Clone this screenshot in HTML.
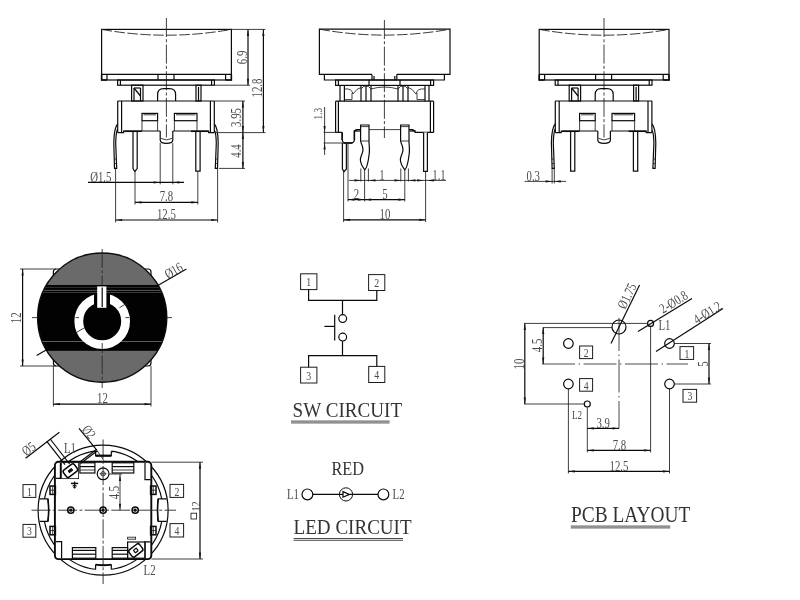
<!DOCTYPE html>
<html lang="en">
<head>
<meta charset="utf-8">
<title>Illuminated tact switch drawing</title>
<style>
html,body{margin:0;padding:0;background:#fff;}
body{width:800px;height:600px;overflow:hidden;}
svg{display:block;will-change:transform;}
.o{fill:none;stroke:#0a0a0a;stroke-width:1.2;}
.k{fill:#fff;stroke:#111;stroke-width:1.25;}
.k2{fill:none;stroke:#0a0a0a;stroke-width:1.5;}
.k3{fill:none;stroke:#0a0a0a;stroke-width:2.2;}
.kf{fill:#111;stroke:none;}
.b{fill:none;stroke:#1c1c1c;stroke-width:1;}
.d{fill:none;stroke:#1e1e1e;stroke-width:0.85;}
.c{fill:none;stroke:#2a2a2a;stroke-width:0.9;stroke-dasharray:19 2.3 3 2.3;}
.c2{fill:none;stroke:#4a4a4a;stroke-width:1;stroke-dasharray:33 3.5 1.5 3.5;}
.dash{fill:none;stroke:#222;stroke-width:0.9;stroke-dasharray:10.5 2.5;}
.ah{fill:#141414;stroke:none;}
.t{font-family:"Liberation Serif","DejaVu Serif",serif;fill:#4a4a4a;}
.tt{font-family:"Liberation Serif","DejaVu Serif",serif;fill:#333;}
</style>
</head>
<body>
<svg width="800" height="600" viewBox="0 0 800 600">
<rect x="0" y="0" width="800" height="600" fill="#fff"/>
<rect class="o" x="101.6" y="29.4" width="129.8" height="50.6"/>
<line class="o" x1="101.6" y1="74.4" x2="231.4" y2="74.4"/>
<line class="o" x1="107" y1="74.4" x2="107" y2="80"/>
<line class="o" x1="225.6" y1="74.4" x2="225.6" y2="80"/>
<line class="o" x1="158" y1="74.4" x2="158" y2="80"/>
<line class="o" x1="174" y1="74.4" x2="174" y2="80"/>
<path class="dash" d="M101.6 29.4 Q166.4 41 231.4 29.4"/>
<line class="c" x1="166.4" y1="18" x2="166.4" y2="137.5"/>
<rect class="o" x="117.6" y="80" width="96.8" height="5.2"/>
<line class="o" x1="120.4" y1="80" x2="120.4" y2="85.2"/>
<line class="o" x1="211.6" y1="80" x2="211.6" y2="85.2"/>
<path class="k2" d="M101.6 74.4 L101.6 80 L107 80"/>
<path class="k2" d="M231.4 74.4 L231.4 80 L225.6 80"/>
<rect class="o" x="131.6" y="85.2" width="11.4" height="15.8"/>
<line class="o" x1="134" y1="88" x2="134" y2="101"/>
<line class="o" x1="140.5" y1="88" x2="140.5" y2="101"/>
<line class="o" x1="134" y1="88" x2="140.5" y2="88"/>
<line class="o" x1="134" y1="88" x2="140.5" y2="96"/>
<rect class="o" x="196" y="85.2" width="5" height="15.8"/>
<line class="o" x1="198.5" y1="87" x2="198.5" y2="101"/>
<path class="o" d="M157.6 101 V94.5 Q157.6 88.6 163.6 88.6 H169.6 Q175.6 88.6 175.6 94.5 V101"/>
<line class="o" x1="117.6" y1="101" x2="214.4" y2="101"/>
<line class="o" x1="117.7" y1="101" x2="117.7" y2="132.6"/>
<line class="o" x1="121.6" y1="101" x2="121.6" y2="132.6"/>
<line class="o" x1="214.3" y1="101" x2="214.3" y2="132.6"/>
<line class="o" x1="210.4" y1="101" x2="210.4" y2="132.6"/>
<path class="o" d="M117.7 132.6 L123.6 132.6 L123.6 131 L160.2 131"/>
<path class="o" d="M172.8 131 L208.6 131 L208.6 132.6 L214.3 132.6"/>
<rect class="o" x="142" y="113.4" width="15.6" height="7.3"/>
<line class="d" x1="142" y1="120.7" x2="142" y2="131"/>
<line class="d" x1="157.6" y1="120.7" x2="157.6" y2="131"/>
<line class="d" x1="143.5" y1="114.8" x2="156" y2="114.8"/>
<rect class="o" x="174.4" y="113.4" width="22.6" height="7.3"/>
<line class="d" x1="174.4" y1="120.7" x2="174.4" y2="131"/>
<line class="d" x1="197" y1="120.7" x2="197" y2="131"/>
<line class="d" x1="176" y1="114.8" x2="195.5" y2="114.8"/>
<path class="o" d="M160.2 131 V140 Q160.2 143.4 166.4 143.4 Q172.8 143.4 172.8 140 V131"/>
<path class="d" d="M160.8 138.4 Q166.5 141.4 172.2 138.4"/>
<path class="k" d="M133 131.5 L133 168.6 L134.8 171.5 L137.2 168.6 L137.2 131.5"/>
<path class="k" d="M195.8 131.5 L195.8 171.2 L200.1 171.2 L200.1 131.5"/>
<line class="k2" x1="124.4" y1="131.3" x2="141.8" y2="131.3"/>
<line class="k2" x1="191" y1="131.3" x2="208.4" y2="131.3"/>
<path class="o" d="M117.6 124 Q114 128 113.8 143 L114.5 168.4 L116.7 168.4 L115.7 143 Q116 132 117.6 129"/>
<line class="d" x1="114.2" y1="159" x2="116.2" y2="159"/>
<line class="d" x1="114.4" y1="163.6" x2="116.4" y2="163.6"/>
<path class="o" d="M214.4 124 Q218 128 218.2 143 L217.5 168.4 L215.3 168.4 L216.3 143 Q216 132 214.4 130.5"/>
<line class="d" x1="215.8" y1="159" x2="217.8" y2="159"/>
<line class="d" x1="215.6" y1="163.6" x2="217.6" y2="163.6"/>
<line class="d" x1="160.2" y1="143" x2="160.2" y2="184.4"/>
<line class="d" x1="172.8" y1="143" x2="172.8" y2="184.4"/>
<line class="o" x1="88" y1="182.4" x2="184" y2="182.4"/>
<path class="ah" d="M160.2 182.4 L153.7 183.5 L153.7 181.3 Z"/>
<path class="ah" d="M172.8 182.4 L179.3 181.3 L179.3 183.5 Z"/>
<text class="t" x="90.2" y="181.6" font-size="14" text-anchor="start" textLength="21.26" lengthAdjust="spacingAndGlyphs">Ø1.5</text>
<line class="d" x1="135" y1="171" x2="135" y2="204.5"/>
<line class="d" x1="197.8" y1="171" x2="197.8" y2="204.5"/>
<line class="o" x1="135" y1="202.4" x2="197.8" y2="202.4"/>
<path class="ah" d="M135 202.4 L141.5 201.3 L141.5 203.5 Z"/>
<path class="ah" d="M197.8 202.4 L191.3 203.5 L191.3 201.3 Z"/>
<text class="t" x="166.4" y="201.3" font-size="14" text-anchor="middle" textLength="13.48" lengthAdjust="spacingAndGlyphs">7.8</text>
<line class="d" x1="115.6" y1="168.4" x2="115.6" y2="222.5"/>
<line class="d" x1="217.6" y1="168.4" x2="217.6" y2="222.5"/>
<line class="o" x1="115.6" y1="220" x2="217.6" y2="220"/>
<path class="ah" d="M115.6 220 L122.1 218.9 L122.1 221.1 Z"/>
<path class="ah" d="M217.6 220 L211.1 221.1 L211.1 218.9 Z"/>
<text class="t" x="166.4" y="219" font-size="14" text-anchor="middle" textLength="18.87" lengthAdjust="spacingAndGlyphs">12.5</text>
<line class="d" x1="231.4" y1="29.4" x2="265.5" y2="29.4"/>
<line class="d" x1="214.4" y1="85.2" x2="250" y2="85.2"/>
<line class="d" x1="214.4" y1="101" x2="245" y2="101"/>
<line class="d" x1="214.4" y1="132.6" x2="265.5" y2="132.6"/>
<line class="d" x1="219" y1="168.4" x2="245" y2="168.4"/>
<line class="o" x1="248" y1="29.4" x2="248" y2="85.2"/>
<path class="ah" d="M248 29.4 L249.1 35.9 L246.9 35.9 Z"/>
<path class="ah" d="M248 85.2 L246.9 78.7 L249.1 78.7 Z"/>
<text class="t" x="247.4" y="57.4" font-size="14" text-anchor="middle" textLength="13.48" lengthAdjust="spacingAndGlyphs" transform="rotate(-90 247.4 57.4)">6.9</text>
<line class="o" x1="263.4" y1="29.4" x2="263.4" y2="132.6"/>
<path class="ah" d="M263.4 29.4 L264.5 35.9 L262.3 35.9 Z"/>
<path class="ah" d="M263.4 132.6 L262.3 126.1 L264.5 126.1 Z"/>
<text class="t" x="261.8" y="88" font-size="14" text-anchor="middle" textLength="18.87" lengthAdjust="spacingAndGlyphs" transform="rotate(-90 261.8 88)">12.8</text>
<line class="o" x1="242.9" y1="101" x2="242.9" y2="132.6"/>
<path class="ah" d="M242.9 101 L244 107.5 L241.8 107.5 Z"/>
<path class="ah" d="M242.9 132.6 L241.8 126.1 L244 126.1 Z"/>
<text class="t" x="241.2" y="117.5" font-size="14" text-anchor="middle" textLength="18.87" lengthAdjust="spacingAndGlyphs" transform="rotate(-90 241.2 117.5)">3.95</text>
<line class="o" x1="242.9" y1="132.6" x2="242.9" y2="168.4"/>
<path class="ah" d="M242.9 132.6 L244 139.1 L241.8 139.1 Z"/>
<path class="ah" d="M242.9 168.4 L241.8 161.9 L244 161.9 Z"/>
<text class="t" x="241" y="151" font-size="14" text-anchor="middle" textLength="13.48" lengthAdjust="spacingAndGlyphs" transform="rotate(-90 241 151)">4.4</text>
<path class="o" d="M372 74.4 L319.4 74.4 L319.4 29.2 L450 29.2 L450 74.4 L396.8 74.4"/>
<path class="dash" d="M319.4 29.2 Q384.4 41 450 29.2"/>
<line class="c" x1="384.4" y1="20" x2="384.4" y2="138"/>
<path class="o" d="M324.4 74.4 L324.4 80 L372 80 L372 74.4"/>
<path class="o" d="M444.4 74.4 L444.4 80 L396.8 80 L396.8 74.4"/>
<line class="o" x1="374" y1="76" x2="374" y2="80"/>
<line class="o" x1="394.8" y1="76" x2="394.8" y2="80"/>
<line class="o" x1="372" y1="80" x2="396.8" y2="80"/>
<rect class="o" x="335.6" y="80" width="98" height="5.4"/>
<line class="o" x1="338.4" y1="80" x2="338.4" y2="85.4"/>
<line class="o" x1="430.6" y1="80" x2="430.6" y2="85.4"/>
<line class="o" x1="369" y1="80" x2="369" y2="85.4"/>
<line class="o" x1="400" y1="80" x2="400" y2="85.4"/>
<line class="o" x1="340" y1="85.4" x2="340" y2="101.2"/>
<line class="o" x1="344.4" y1="85.4" x2="344.4" y2="101.2"/>
<line class="o" x1="361" y1="85.4" x2="361" y2="101.2"/>
<line class="o" x1="366" y1="85.4" x2="366" y2="101.2"/>
<line class="o" x1="371" y1="85.4" x2="371" y2="101.2"/>
<line class="o" x1="398" y1="85.4" x2="398" y2="101.2"/>
<line class="o" x1="403" y1="85.4" x2="403" y2="101.2"/>
<line class="o" x1="408" y1="85.4" x2="408" y2="101.2"/>
<line class="o" x1="425" y1="85.4" x2="425" y2="101.2"/>
<line class="o" x1="429" y1="85.4" x2="429" y2="101.2"/>
<path class="d" d="M344.4 89 Q352 88 353 94 Q357 88 361 87.5"/>
<path class="d" d="M425 89 Q417 88 416 94 Q412 88 408 87.5"/>
<path class="d" d="M361 89 Q363.5 85.5 366 86 Q368.5 85.5 371 89 Q384.4 85 398 89 Q400.5 85.5 403 86 Q405.5 85.5 408 89"/>
<line class="d" x1="344.4" y1="99.6" x2="352" y2="99.6"/>
<line class="d" x1="417" y1="99.6" x2="425" y2="99.6"/>
<line class="d" x1="352" y1="93" x2="352" y2="99.6"/>
<line class="d" x1="417" y1="93" x2="417" y2="99.6"/>
<line class="o" x1="335.6" y1="101.2" x2="433.6" y2="101.2"/>
<line class="o" x1="335.6" y1="101.2" x2="335.6" y2="132.4"/>
<line class="o" x1="338.4" y1="101.2" x2="338.4" y2="132.4"/>
<line class="o" x1="433.6" y1="101.2" x2="433.6" y2="132.4"/>
<line class="o" x1="430.4" y1="101.2" x2="430.4" y2="132.4"/>
<path class="o" d="M335.6 132.4 L342.2 132.4"/>
<path class="o" d="M354.4 132.4 L354.4 130.6 L356 130.6 L356 129.6 L360.6 129.6"/>
<path class="o" d="M433.6 132.4 L415 132.4 L415 130.6 L413 130.6 L413 129.6 L409 129.6"/>
<line class="d" x1="369" y1="129.6" x2="400.6" y2="129.6"/>
<line class="k" x1="354" y1="131" x2="360" y2="131"/>
<line class="k" x1="409.5" y1="131" x2="415" y2="131"/>
<path class="o" d="M360.6 141 L360.6 125 L369 125 L369 141"/>
<line class="d" x1="360.6" y1="126.6" x2="369" y2="126.6"/>
<line class="d" x1="360.6" y1="141" x2="369" y2="141"/>
<path class="o" d="M360.6 141 C361.1 144 363.2 146 363 150 C362.8 154 360.2 156 360.4 160 C360.6 164 362.6 167 364.8 169.8 C368 167 368.4 160 369.4 152 C369.6 148 369 144 369 141"/>
<line class="d" x1="360.8" y1="168.5" x2="360.8" y2="181.5"/>
<line class="d" x1="368.4" y1="168.5" x2="368.4" y2="181.5"/>
<path class="o" d="M400.6 141 L400.6 125 L409 125 L409 141"/>
<line class="d" x1="400.6" y1="126.6" x2="409" y2="126.6"/>
<line class="d" x1="400.6" y1="141" x2="409" y2="141"/>
<path class="o" d="M400.6 141 C401.1 144 403.2 146 403 150 C402.8 154 400.2 156 400.4 160 C400.6 164 402.6 167 404.8 169.8 C408 167 408.4 160 409.4 152 C409.6 148 409 144 409 141"/>
<line class="d" x1="400.8" y1="168.5" x2="400.8" y2="181.5"/>
<line class="d" x1="408.4" y1="168.5" x2="408.4" y2="181.5"/>
<path class="k" d="M342.4 143 L342.4 169 L344 171.6 L346.4 169 L346.4 143"/>
<path class="k" d="M423.6 132.4 L423.6 171.4 L427.4 171.4 L427.4 132.4"/>
<path class="o" d="M342.2 132.4 V139.5 Q342.2 143 346 143 H350.6 Q354.4 143 354.4 139.5 V132.4"/>
<line class="k2" x1="343.6" y1="143" x2="352.6" y2="143"/>
<line class="k2" x1="342.2" y1="132.4" x2="342.2" y2="140"/>
<line class="k2" x1="354.4" y1="131" x2="354.4" y2="140"/>
<line class="d" x1="323.6" y1="132.4" x2="342" y2="132.4"/>
<line class="d" x1="323.6" y1="143" x2="352" y2="143"/>
<line class="d" x1="324.6" y1="107" x2="324.6" y2="155"/>
<path class="ah" d="M324.6 132.4 L323.5 125.9 L325.7 125.9 Z"/>
<path class="ah" d="M324.6 143 L325.7 149.5 L323.5 149.5 Z"/>
<text class="t" x="322.4" y="113.6" font-size="12" text-anchor="middle" textLength="11.55" lengthAdjust="spacingAndGlyphs" transform="rotate(-90 322.4 113.6)">1.3</text>
<line class="d" x1="349" y1="180.4" x2="446" y2="180.4"/>
<path class="ah" d="M361 180.4 L354.5 181.5 L354.5 179.3 Z"/>
<path class="ah" d="M369 180.4 L375.5 179.3 L375.5 181.5 Z"/>
<path class="ah" d="M401 180.4 L394.5 181.5 L394.5 179.3 Z"/>
<path class="ah" d="M409 180.4 L415.5 179.3 L415.5 181.5 Z"/>
<path class="ah" d="M423.6 180.4 L417.1 181.5 L417.1 179.3 Z"/>
<path class="ah" d="M427.4 180.4 L433.9 179.3 L433.9 181.5 Z"/>
<text class="t" x="382" y="179.6" font-size="14" text-anchor="middle" textLength="5.39" lengthAdjust="spacingAndGlyphs">1</text>
<text class="t" x="439" y="179.6" font-size="14" text-anchor="middle" textLength="13.48" lengthAdjust="spacingAndGlyphs">1.1</text>
<line class="d" x1="348" y1="143" x2="348" y2="201.5"/>
<line class="d" x1="364.6" y1="169" x2="364.6" y2="201.5"/>
<line class="d" x1="404.8" y1="169" x2="404.8" y2="201.5"/>
<line class="o" x1="348" y1="199.6" x2="364.6" y2="199.6"/>
<path class="ah" d="M348 199.6 L354.5 198.5 L354.5 200.7 Z"/>
<path class="ah" d="M364.6 199.6 L358.1 200.7 L358.1 198.5 Z"/>
<line class="o" x1="364.6" y1="199.6" x2="404.8" y2="199.6"/>
<path class="ah" d="M364.6 199.6 L371.1 198.5 L371.1 200.7 Z"/>
<path class="ah" d="M404.8 199.6 L398.3 200.7 L398.3 198.5 Z"/>
<text class="t" x="356.4" y="198.6" font-size="14" text-anchor="middle" textLength="5.39" lengthAdjust="spacingAndGlyphs">2</text>
<text class="t" x="385" y="198.6" font-size="14" text-anchor="middle" textLength="5.39" lengthAdjust="spacingAndGlyphs">5</text>
<line class="d" x1="343.6" y1="171" x2="343.6" y2="222"/>
<line class="d" x1="425.6" y1="171" x2="425.6" y2="222"/>
<line class="o" x1="343.6" y1="219.8" x2="425.6" y2="219.8"/>
<path class="ah" d="M343.6 219.8 L350.1 218.7 L350.1 220.9 Z"/>
<path class="ah" d="M425.6 219.8 L419.1 220.9 L419.1 218.7 Z"/>
<text class="t" x="385" y="218.6" font-size="14" text-anchor="middle" textLength="10.78" lengthAdjust="spacingAndGlyphs">10</text>
<g transform="translate(437.6 0)">
<rect class="o" x="101.6" y="29.4" width="129.8" height="50.6"/>
<line class="o" x1="101.6" y1="74.4" x2="231.4" y2="74.4"/>
<line class="o" x1="107" y1="74.4" x2="107" y2="80"/>
<line class="o" x1="225.6" y1="74.4" x2="225.6" y2="80"/>
<line class="o" x1="158" y1="74.4" x2="158" y2="80"/>
<line class="o" x1="174" y1="74.4" x2="174" y2="80"/>
<path class="dash" d="M101.6 29.4 Q166.4 41 231.4 29.4"/>
<line class="c" x1="166.4" y1="18" x2="166.4" y2="137.5"/>
<rect class="o" x="117.6" y="80" width="96.8" height="5.2"/>
<line class="o" x1="120.4" y1="80" x2="120.4" y2="85.2"/>
<line class="o" x1="211.6" y1="80" x2="211.6" y2="85.2"/>
<path class="k2" d="M101.6 74.4 L101.6 80 L107 80"/>
<path class="k2" d="M231.4 74.4 L231.4 80 L225.6 80"/>
<rect class="o" x="131.6" y="85.2" width="11.4" height="15.8"/>
<line class="o" x1="134" y1="88" x2="134" y2="101"/>
<line class="o" x1="140.5" y1="88" x2="140.5" y2="101"/>
<line class="o" x1="134" y1="88" x2="140.5" y2="88"/>
<line class="o" x1="134" y1="88" x2="140.5" y2="96"/>
<rect class="o" x="196" y="85.2" width="5" height="15.8"/>
<line class="o" x1="198.5" y1="87" x2="198.5" y2="101"/>
<path class="o" d="M157.6 101 V94.5 Q157.6 88.6 163.6 88.6 H169.6 Q175.6 88.6 175.6 94.5 V101"/>
<line class="o" x1="117.6" y1="101" x2="214.4" y2="101"/>
<line class="o" x1="117.7" y1="101" x2="117.7" y2="132.6"/>
<line class="o" x1="121.6" y1="101" x2="121.6" y2="132.6"/>
<line class="o" x1="214.3" y1="101" x2="214.3" y2="132.6"/>
<line class="o" x1="210.4" y1="101" x2="210.4" y2="132.6"/>
<path class="o" d="M117.7 132.6 L123.6 132.6 L123.6 131 L160.2 131"/>
<path class="o" d="M172.8 131 L208.6 131 L208.6 132.6 L214.3 132.6"/>
<rect class="o" x="142" y="113.4" width="15.6" height="7.3"/>
<line class="d" x1="142" y1="120.7" x2="142" y2="131"/>
<line class="d" x1="157.6" y1="120.7" x2="157.6" y2="131"/>
<line class="d" x1="143.5" y1="114.8" x2="156" y2="114.8"/>
<rect class="o" x="174.4" y="113.4" width="22.6" height="7.3"/>
<line class="d" x1="174.4" y1="120.7" x2="174.4" y2="131"/>
<line class="d" x1="197" y1="120.7" x2="197" y2="131"/>
<line class="d" x1="176" y1="114.8" x2="195.5" y2="114.8"/>
<path class="o" d="M160.2 131 V140 Q160.2 143.4 166.4 143.4 Q172.8 143.4 172.8 140 V131"/>
<path class="d" d="M160.8 138.4 Q166.5 141.4 172.2 138.4"/>
<path class="k" d="M133 131.5 L133 171.2 L137.2 171.2 L137.2 131.5"/>
<path class="k" d="M195.8 131.5 L195.8 171.2 L200.1 171.2 L200.1 131.5"/>
<line class="k2" x1="124.4" y1="131.3" x2="141.8" y2="131.3"/>
<line class="k2" x1="191" y1="131.3" x2="208.4" y2="131.3"/>
<path class="o" d="M117.6 124 Q114 128 113.8 143 L114.5 168.4 L116.7 168.4 L115.7 143 Q116 132 117.6 129"/>
<line class="d" x1="114.2" y1="159" x2="116.2" y2="159"/>
<line class="d" x1="114.4" y1="163.6" x2="116.4" y2="163.6"/>
<path class="o" d="M214.4 124 Q218 128 218.2 143 L217.5 168.4 L215.3 168.4 L216.3 143 Q216 132 214.4 130.5"/>
<line class="d" x1="215.8" y1="159" x2="217.8" y2="159"/>
<line class="d" x1="215.6" y1="163.6" x2="217.6" y2="163.6"/>
</g>
<line class="d" x1="552.1" y1="168.4" x2="552.1" y2="183.5"/>
<line class="d" x1="554.3" y1="168.4" x2="554.3" y2="183.5"/>
<line class="d" x1="524.6" y1="181.4" x2="566" y2="181.4"/>
<path class="ah" d="M552.1 181.4 L545.6 182.5 L545.6 180.3 Z"/>
<path class="ah" d="M554.3 181.4 L560.8 180.3 L560.8 182.5 Z"/>
<text class="t" x="526.5" y="180.6" font-size="14" text-anchor="start" textLength="13.48" lengthAdjust="spacingAndGlyphs">0.3</text>
<rect class="o" x="53.4" y="269" width="97.6" height="97" rx="3"/>
<circle cx="102.2" cy="317.6" r="64.6" fill="#6a6a6a" stroke="#0c0c0c" stroke-width="1.4"/>
<line class="c" x1="32" y1="317.6" x2="172" y2="317.6"/>
<line class="c" x1="102.2" y1="249" x2="102.2" y2="388"/>
<line class="o" x1="36.6" y1="355.5" x2="186.4" y2="269.1"/>
<clipPath id="cc"><circle cx="102.2" cy="317.6" r="64.39999999999999"/></clipPath>
<g clip-path="url(#cc)">
<rect x="30" y="285" width="150" height="65.8" fill="#020202"/>
<rect x="30" y="286.9" width="150" height="0.7" fill="#444"/>
<rect x="30" y="289.9" width="150" height="0.8" fill="#707070"/>
<rect x="30" y="292.2" width="150" height="0.7" fill="#555"/>
<rect x="30" y="341.2" width="150" height="0.8" fill="#777"/>
</g>
<circle cx="102.2" cy="321.2" r="23.4" fill="none" stroke="#fff" stroke-width="8.8"/>
<rect x="94" y="293" width="16" height="13.5" fill="#020202"/>
<rect x="97.2" y="286.4" width="9.2" height="21.4" fill="#fff"/>
<line class="o" x1="102.2" y1="287.5" x2="102.2" y2="307"/>
<line class="c" x1="102.2" y1="343" x2="102.2" y2="349.5"/>
<line class="d" x1="75.6" y1="317.6" x2="79" y2="317.6"/>
<line class="d" x1="125.4" y1="317.6" x2="129" y2="317.6"/>
<line class="d" x1="76.5" y1="332.4" x2="84.6" y2="327.7"/>
<line class="d" x1="119.4" y1="307.7" x2="125.6" y2="304.1"/>
<text class="t" x="167.9" y="279.37" font-size="14" text-anchor="start" textLength="18.56" lengthAdjust="spacingAndGlyphs" transform="rotate(-30 167.9 279.37)">Ø16</text>
<line class="d" x1="20" y1="269" x2="56" y2="269"/>
<line class="d" x1="20" y1="366" x2="56" y2="366"/>
<line class="o" x1="22.6" y1="269" x2="22.6" y2="366"/>
<path class="ah" d="M22.6 269 L23.7 275.5 L21.5 275.5 Z"/>
<path class="ah" d="M22.6 366 L21.5 359.5 L23.7 359.5 Z"/>
<text class="t" x="21.3" y="317.8" font-size="14" text-anchor="middle" textLength="10.78" lengthAdjust="spacingAndGlyphs" transform="rotate(-90 21.3 317.8)">12</text>
<line class="d" x1="53.4" y1="366" x2="53.4" y2="406.5"/>
<line class="d" x1="151" y1="366" x2="151" y2="406.5"/>
<line class="o" x1="53.4" y1="404.2" x2="151" y2="404.2"/>
<path class="ah" d="M53.4 404.2 L59.9 403.1 L59.9 405.3 Z"/>
<path class="ah" d="M151 404.2 L144.5 405.3 L144.5 403.1 Z"/>
<text class="t" x="102.4" y="403" font-size="14" text-anchor="middle" textLength="10.78" lengthAdjust="spacingAndGlyphs">12</text>
<circle class="o" cx="103.1" cy="510.2" r="65"/>
<circle class="o" cx="103.1" cy="510.2" r="59.6"/>
<rect x="95.6" y="447.6" width="15.8" height="8.2" fill="#fff"/>
<rect x="95.6" y="564.8" width="15.8" height="8" fill="#fff"/>
<rect x="41" y="498.8" width="7" height="22.6" fill="#fff"/>
<rect x="158" y="498.8" width="7.4" height="22.6" fill="#fff"/>
<rect x="54.9" y="461.8" width="96.4" height="97.3" rx="3.5" fill="#fff" stroke="#0a0a0a" stroke-width="1.9"/>
<line class="c" x1="31.5" y1="510.2" x2="176" y2="510.2"/>
<line class="c" x1="103.1" y1="439.5" x2="103.1" y2="584"/>
<path class="o" d="M39.6 498.8 H47.9 Q49.4 510.2 47.9 521.4 H39.6"/>
<path class="k2" d="M47.9 498.8 Q49.4 510.2 47.9 521.4"/>
<path class="o" d="M166.6 498.8 H158.2 Q156.8 510.2 158.2 521.4 H166.6"/>
<path class="k2" d="M158.2 498.8 Q156.8 510.2 158.2 521.4"/>
<path class="o" d="M95.6 451 L95.6 455.7 L111.3 455.7 L111.3 451.8 L112.6 451.8"/>
<line class="k3" x1="95.6" y1="455.7" x2="111.3" y2="455.7"/>
<path class="o" d="M95.6 569.6 L95.6 564.8 L111.3 564.8 L111.3 569.6"/>
<path class="k2" d="M96 564.6 Q103.4 566.4 111 564.6"/>
<path class="o" d="M56 478.4 L60.4 478.4 L60.4 463"/>
<path class="o" d="M150.4 479.6 L145 479.6 L145 463"/>
<path class="o" d="M56 541.6 L61.6 541.6 L61.6 558.2"/>
<path class="o" d="M150.4 541.8 L145 541.8 L145 558.2"/>
<rect class="o" x="79.9" y="462.8" width="15" height="10.2"/>
<line class="o" x1="79.9" y1="466.6" x2="94.9" y2="466.6"/>
<line class="d" x1="79.9" y1="470" x2="94.9" y2="470"/>
<rect class="o" x="112.2" y="462.8" width="21.6" height="10.2"/>
<line class="o" x1="112.2" y1="466.6" x2="133.8" y2="466.6"/>
<line class="d" x1="112.2" y1="470" x2="133.8" y2="470"/>
<rect class="o" x="72.4" y="547.6" width="23.4" height="10.6"/>
<line class="o" x1="72.4" y1="550.4" x2="95.8" y2="550.4"/>
<line class="o" x1="72.4" y1="554.2" x2="95.8" y2="554.2"/>
<rect class="o" x="112.2" y="547.6" width="15.4" height="10.6"/>
<line class="o" x1="112.2" y1="550.4" x2="127.6" y2="550.4"/>
<line class="o" x1="112.2" y1="554.2" x2="127.6" y2="554.2"/>
<rect class="k2" x="50" y="486" width="5.4" height="8.4"/>
<line class="d" x1="52.7" y1="486" x2="52.7" y2="494.4"/>
<line class="d" x1="50" y1="490.2" x2="55.4" y2="490.2"/>
<rect class="k2" x="50" y="526.4" width="5.4" height="8.4"/>
<line class="d" x1="52.7" y1="526.4" x2="52.7" y2="534.8"/>
<line class="d" x1="50" y1="530.6" x2="55.4" y2="530.6"/>
<rect class="k2" x="150.6" y="486" width="5.4" height="8.4"/>
<line class="d" x1="153.3" y1="486" x2="153.3" y2="494.4"/>
<line class="d" x1="150.6" y1="490.2" x2="156" y2="490.2"/>
<rect class="k2" x="150.6" y="526.4" width="5.4" height="8.4"/>
<line class="d" x1="153.3" y1="526.4" x2="153.3" y2="534.8"/>
<line class="d" x1="150.6" y1="530.6" x2="156" y2="530.6"/>
<circle class="k2" cx="70.8" cy="510.2" r="3.1"/>
<circle class="kf" cx="70.8" cy="510.2" r="1.6"/>
<circle class="k2" cx="103.1" cy="510.2" r="3.1"/>
<circle class="kf" cx="103.1" cy="510.2" r="1.6"/>
<circle class="k2" cx="135.2" cy="510.2" r="3.1"/>
<circle class="kf" cx="135.2" cy="510.2" r="1.6"/>
<circle class="o" cx="103.1" cy="473.8" r="5.9"/>
<circle class="d" cx="103.1" cy="473.8" r="2.2"/>
<line class="d" x1="99.7" y1="473.8" x2="106.5" y2="473.8"/>
<rect class="d" x="61.6" y="462.6" width="17" height="16"/>
<g transform="rotate(-37.5 70.4 470.6)"><rect class="k2" x="63.6" y="466.2" width="13.6" height="8.8" rx="2.2"/><rect class="kf" x="68" y="469" width="5" height="3.2" rx="0.8"/></g>
<line class="o" x1="74.6" y1="488.2" x2="74.6" y2="481.4"/>
<line class="k2" x1="71" y1="483.4" x2="78.2" y2="483.4"/>
<line class="d" x1="72.6" y1="485.4" x2="76.6" y2="485.4"/>
<circle class="d" cx="74.6" cy="486.6" r="1.4"/>
<rect class="o" x="127.6" y="542" width="17.4" height="16.2"/>
<g transform="rotate(-37.5 135.8 550.4)"><rect class="k2" x="129.2" y="546" width="13.2" height="8.8" rx="2.2"/><rect class="o" x="134" y="548.8" width="3.6" height="3.2" rx="0.6"/></g>
<rect class="d" x="127.6" y="537.2" width="8" height="2"/>
<line class="o" x1="46.8" y1="441.3" x2="65" y2="464.6"/>
<line class="o" x1="50.2" y1="439" x2="69.6" y2="464"/>
<line class="o" x1="25.6" y1="458.2" x2="59.4" y2="432.3"/>
<text class="t" x="26.31" y="456.59" font-size="14" text-anchor="start" textLength="13.17" lengthAdjust="spacingAndGlyphs" transform="rotate(-37.5 26.31 456.59)">Ø5</text>
<line class="o" x1="79" y1="428.4" x2="96.8" y2="450.2"/>
<line class="d" x1="96.8" y1="450.2" x2="104" y2="460.8"/>
<line class="o" x1="96.4" y1="449.6" x2="79.8" y2="462"/>
<line class="o" x1="97.4" y1="450.8" x2="80.8" y2="463.2"/>
<text class="t" x="81.22" y="429.63" font-size="14" text-anchor="start" textLength="13.17" lengthAdjust="spacingAndGlyphs" transform="rotate(51 81.22 429.63)">Ø2</text>
<text class="t" x="64" y="453" font-size="14" text-anchor="start" textLength="11.98" lengthAdjust="spacingAndGlyphs">L1</text>
<text class="t" x="143.6" y="575" font-size="14" text-anchor="start" textLength="11.98" lengthAdjust="spacingAndGlyphs">L2</text>
<line class="d" x1="109.2" y1="474" x2="122" y2="474"/>
<line class="d" x1="120" y1="474.4" x2="120" y2="510.2"/>
<path class="ah" d="M120 474.4 L121.1 480.9 L118.9 480.9 Z"/>
<path class="ah" d="M120 510.2 L118.9 503.7 L121.1 503.7 Z"/>
<text class="t" x="119" y="492.6" font-size="14" text-anchor="middle" textLength="13.48" lengthAdjust="spacingAndGlyphs" transform="rotate(-90 119 492.6)">4.5</text>
<line class="d" x1="151.4" y1="462.2" x2="203" y2="462.2"/>
<line class="d" x1="151.4" y1="559" x2="203" y2="559"/>
<line class="o" x1="200" y1="462.2" x2="200" y2="559"/>
<path class="ah" d="M200 462.2 L201.1 468.7 L198.9 468.7 Z"/>
<path class="ah" d="M200 559 L198.9 552.5 L201.1 552.5 Z"/>
<rect class="d" x="191" y="513.2" width="5.6" height="5.8"/>
<text class="t" x="200.2" y="506.4" font-size="13.5" text-anchor="middle" textLength="10.39" lengthAdjust="spacingAndGlyphs" transform="rotate(-90 200.2 506.4)">12</text>
<rect class="b" x="23" y="484.6" width="12.8" height="12.8"/>
<text class="t" x="29.4" y="495.65" font-size="12.6" text-anchor="middle" textLength="4.85" lengthAdjust="spacingAndGlyphs">1</text>
<rect class="b" x="23" y="524.4" width="12.8" height="12.8"/>
<text class="t" x="29.4" y="535.45" font-size="12.6" text-anchor="middle" textLength="4.85" lengthAdjust="spacingAndGlyphs">3</text>
<rect class="b" x="170" y="484.4" width="13.6" height="13"/>
<text class="t" x="176.8" y="495.55" font-size="12.6" text-anchor="middle" textLength="4.85" lengthAdjust="spacingAndGlyphs">2</text>
<rect class="b" x="170" y="523.6" width="13.6" height="13.4"/>
<text class="t" x="176.8" y="534.95" font-size="12.6" text-anchor="middle" textLength="4.85" lengthAdjust="spacingAndGlyphs">4</text>
<rect class="b" x="300.6" y="273.8" width="16.3" height="15.8"/>
<text class="t" x="308.75" y="286.41" font-size="12.8" text-anchor="middle" textLength="4.93" lengthAdjust="spacingAndGlyphs">1</text>
<rect class="b" x="368.6" y="274.6" width="16.2" height="15.9"/>
<text class="t" x="376.7" y="287.26" font-size="12.8" text-anchor="middle" textLength="4.93" lengthAdjust="spacingAndGlyphs">2</text>
<rect class="b" x="300.6" y="367.2" width="16.3" height="15.8"/>
<text class="t" x="308.75" y="379.81" font-size="12.8" text-anchor="middle" textLength="4.93" lengthAdjust="spacingAndGlyphs">3</text>
<rect class="b" x="368.7" y="366.4" width="16.1" height="16.1"/>
<text class="t" x="376.75" y="379.16" font-size="12.8" text-anchor="middle" textLength="4.93" lengthAdjust="spacingAndGlyphs">4</text>
<path class="o" d="M308.6 289.6 L308.6 300.3 L376.8 300.3 L376.8 290.5"/>
<path class="o" d="M308.6 367.2 L308.6 355.6 L376.8 355.6 L376.8 366.4"/>
<line class="o" x1="342.5" y1="300.3" x2="342.5" y2="314.6"/>
<circle class="o" cx="342.7" cy="318.6" r="3.9"/>
<circle class="o" cx="342.7" cy="337.1" r="3.9"/>
<line class="o" x1="342.5" y1="341.2" x2="342.5" y2="355.6"/>
<line class="o" x1="334.7" y1="314.8" x2="334.7" y2="340.5"/>
<line class="o" x1="324.4" y1="326.4" x2="334.7" y2="326.4"/>
<text class="tt" x="292.6" y="416.6" font-size="21.8" text-anchor="start" textLength="109.5" lengthAdjust="spacingAndGlyphs">SW CIRCUIT</text>
<rect x="291" y="420.6" width="98.6" height="1" fill="#4a4a4a"/>
<rect x="291" y="422.4" width="98.6" height="1" fill="#4a4a4a"/>
<text class="tt" x="347.8" y="475.4" font-size="18.6" text-anchor="middle" textLength="32.6" lengthAdjust="spacingAndGlyphs">RED</text>
<text class="t" x="287" y="498.8" font-size="14" text-anchor="start" textLength="11.98" lengthAdjust="spacingAndGlyphs">L1</text>
<text class="t" x="392.6" y="498.8" font-size="14" text-anchor="start" textLength="11.98" lengthAdjust="spacingAndGlyphs">L2</text>
<circle class="o" cx="307.4" cy="494.4" r="5.4"/>
<circle class="o" cx="383.4" cy="494.4" r="5.4"/>
<line class="o" x1="312.8" y1="494.4" x2="378" y2="494.4"/>
<circle cx="346" cy="494.4" r="6.6" fill="#fff" stroke="#111" stroke-width="1"/>
<path class="o" d="M343 491.6 L349.4 494.4 L343 497.2 Z"/>
<line class="o" x1="339.4" y1="494.4" x2="343" y2="494.4"/>
<line class="o" x1="349.4" y1="494.4" x2="352.6" y2="494.4"/>
<text class="tt" x="293.6" y="534" font-size="21.8" text-anchor="start" textLength="118" lengthAdjust="spacingAndGlyphs">LED CIRCUIT</text>
<rect x="293.6" y="538" width="109.4" height="1" fill="#4a4a4a"/>
<rect x="293.6" y="539.8" width="109.4" height="1" fill="#4a4a4a"/>
<line class="c2" x1="619" y1="318" x2="619" y2="428.4"/>
<line class="c2" x1="542" y1="364" x2="688" y2="364"/>
<circle class="o" cx="619" cy="327" r="7"/>
<line class="o" x1="611" y1="343.5" x2="639.6" y2="285"/>
<text class="t" x="625.3" y="310.04" font-size="14" text-anchor="start" textLength="26.65" lengthAdjust="spacingAndGlyphs" transform="rotate(-64 625.3 310.04)">Ø1.75</text>
<circle class="o" cx="650.6" cy="323.4" r="3"/>
<line class="o" x1="638" y1="331.5" x2="692" y2="298.5"/>
<text class="t" x="663.12" y="313.85" font-size="14" text-anchor="start" textLength="30.24" lengthAdjust="spacingAndGlyphs" transform="rotate(-31.5 663.12 313.85)">2-Ø0.8</text>
<text class="t" x="658.4" y="329.6" font-size="14" text-anchor="start" textLength="11.98" lengthAdjust="spacingAndGlyphs">L1</text>
<circle class="o" cx="568.4" cy="343.5" r="4.8"/>
<circle class="o" cx="669.5" cy="343.5" r="4.8"/>
<circle class="o" cx="568.4" cy="384" r="4.8"/>
<circle class="o" cx="669.5" cy="384" r="4.8"/>
<line class="o" x1="656" y1="351.6" x2="723" y2="308.6"/>
<text class="t" x="696.92" y="324.45" font-size="14" text-anchor="start" textLength="30.24" lengthAdjust="spacingAndGlyphs" transform="rotate(-31.5 696.92 324.45)">4-Ø1.2</text>
<circle class="o" cx="587.3" cy="404" r="3"/>
<text class="t" x="572" y="418.5" font-size="11.8" text-anchor="start" textLength="10.09" lengthAdjust="spacingAndGlyphs">L2</text>
<line class="d" x1="524" y1="323.4" x2="647.6" y2="323.4"/>
<line class="d" x1="524" y1="404" x2="584.3" y2="404"/>
<line class="o" x1="524.8" y1="323.4" x2="524.8" y2="404"/>
<path class="ah" d="M524.8 323.4 L525.9 329.9 L523.7 329.9 Z"/>
<path class="ah" d="M524.8 404 L523.7 397.5 L525.9 397.5 Z"/>
<text class="t" x="524.4" y="364" font-size="14" text-anchor="middle" textLength="10.78" lengthAdjust="spacingAndGlyphs" transform="rotate(-90 524.4 364)">10</text>
<line class="d" x1="543" y1="327.6" x2="612" y2="327.6"/>
<line class="o" x1="543.2" y1="327.6" x2="543.2" y2="364"/>
<path class="ah" d="M543.2 327.6 L544.3 334.1 L542.1 334.1 Z"/>
<path class="ah" d="M543.2 364 L542.1 357.5 L544.3 357.5 Z"/>
<text class="t" x="542.2" y="345.4" font-size="14" text-anchor="middle" textLength="13.48" lengthAdjust="spacingAndGlyphs" transform="rotate(-90 542.2 345.4)">4.5</text>
<line class="d" x1="674.3" y1="343.5" x2="711" y2="343.5"/>
<line class="d" x1="674.3" y1="384" x2="711" y2="384"/>
<line class="o" x1="709" y1="343.5" x2="709" y2="384"/>
<path class="ah" d="M709 343.5 L710.1 350 L707.9 350 Z"/>
<path class="ah" d="M709 384 L707.9 377.5 L710.1 377.5 Z"/>
<text class="t" x="708.4" y="364" font-size="14" text-anchor="middle" textLength="5.39" lengthAdjust="spacingAndGlyphs" transform="rotate(-90 708.4 364)">5</text>
<rect class="b" x="579.6" y="346" width="13" height="12.6"/>
<text class="t" x="586.1" y="356.95" font-size="12.6" text-anchor="middle" textLength="4.85" lengthAdjust="spacingAndGlyphs">2</text>
<rect class="b" x="579.6" y="378.6" width="13" height="12.6"/>
<text class="t" x="586.1" y="389.55" font-size="12.6" text-anchor="middle" textLength="4.85" lengthAdjust="spacingAndGlyphs">4</text>
<rect class="b" x="680" y="346.6" width="13.6" height="12.8"/>
<text class="t" x="686.8" y="357.65" font-size="12.6" text-anchor="middle" textLength="4.85" lengthAdjust="spacingAndGlyphs">1</text>
<rect class="b" x="683" y="389.4" width="13.6" height="12.8"/>
<text class="t" x="689.8" y="400.45" font-size="12.6" text-anchor="middle" textLength="4.85" lengthAdjust="spacingAndGlyphs">3</text>
<line class="d" x1="587.3" y1="407" x2="587.3" y2="452.5"/>
<line class="d" x1="650.6" y1="326.4" x2="650.6" y2="452.5"/>
<line class="d" x1="568.4" y1="388.8" x2="568.4" y2="473.5"/>
<line class="d" x1="669.5" y1="388.8" x2="669.5" y2="473.5"/>
<line class="o" x1="587.3" y1="428.4" x2="619" y2="428.4"/>
<path class="ah" d="M587.3 428.4 L593.8 427.3 L593.8 429.5 Z"/>
<path class="ah" d="M619 428.4 L612.5 429.5 L612.5 427.3 Z"/>
<text class="t" x="603.2" y="427.8" font-size="14" text-anchor="middle" textLength="13.48" lengthAdjust="spacingAndGlyphs">3.9</text>
<line class="o" x1="587.3" y1="450.4" x2="650.6" y2="450.4"/>
<path class="ah" d="M587.3 450.4 L593.8 449.3 L593.8 451.5 Z"/>
<path class="ah" d="M650.6 450.4 L644.1 451.5 L644.1 449.3 Z"/>
<text class="t" x="619.4" y="449.6" font-size="14" text-anchor="middle" textLength="13.48" lengthAdjust="spacingAndGlyphs">7.8</text>
<line class="o" x1="568.4" y1="471.4" x2="669.5" y2="471.4"/>
<path class="ah" d="M568.4 471.4 L574.9 470.3 L574.9 472.5 Z"/>
<path class="ah" d="M669.5 471.4 L663 472.5 L663 470.3 Z"/>
<text class="t" x="619" y="470.6" font-size="14" text-anchor="middle" textLength="18.87" lengthAdjust="spacingAndGlyphs">12.5</text>
<text class="tt" x="571" y="521.6" font-size="23.6" text-anchor="start" textLength="119.4" lengthAdjust="spacingAndGlyphs">PCB LAYOUT</text>
<rect x="570.8" y="525.6" width="99.5" height="1" fill="#4a4a4a"/>
<rect x="570.8" y="527.4" width="99.5" height="1" fill="#4a4a4a"/>
</svg>
</body>
</html>
